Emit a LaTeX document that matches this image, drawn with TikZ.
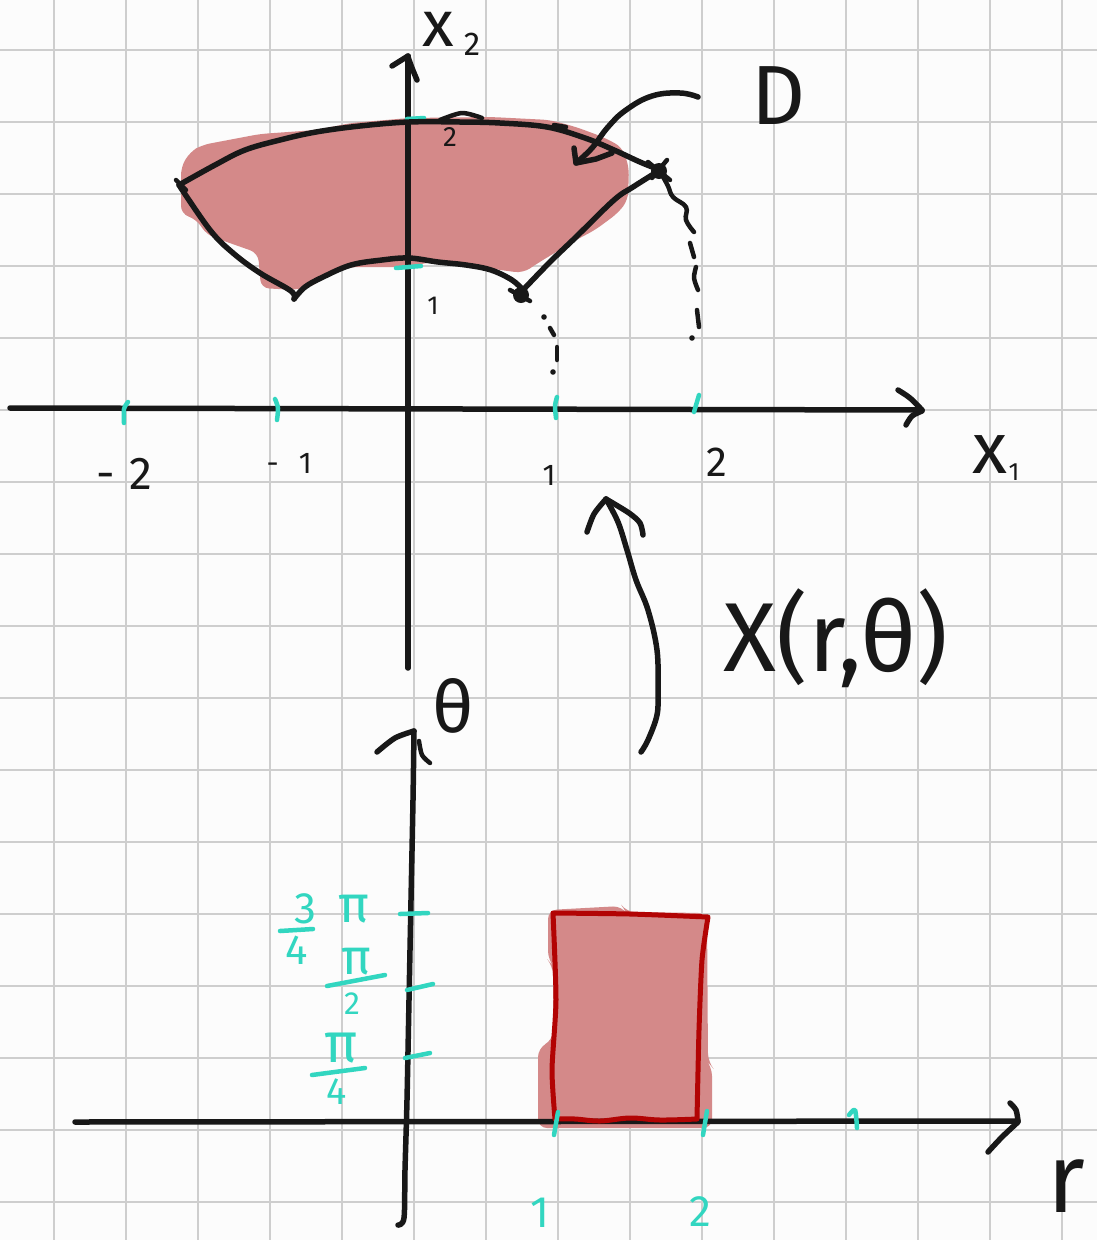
\documentclass[tikz,border=0pt]{standalone}
\usepackage{fontspec}
\setmainfont{Fira Sans}
\definecolor{inkc}{RGB}{24,24,24}
\definecolor{tealc}{RGB}{50,214,192}
\definecolor{gridc}{RGB}{206,206,206}
\definecolor{fillred}{RGB}{212,137,137}
\definecolor{boxred}{RGB}{178,4,4}
\definecolor{paper}{RGB}{252,252,252}
\begin{document}
\begin{tikzpicture}[x=1pt,y=-1pt,line cap=round,line join=round,
  ink/.style={draw=inkc,line width=5.5pt},
  thin ink/.style={draw=inkc,line width=4.5pt},
  tk/.style={draw=tealc,line width=4.5pt},
  gridline/.style={draw=gridc,line width=1.8pt},
  lab/.style={inner sep=0pt,text=inkc},
  tlab/.style={inner sep=0pt,text=tealc},
  fs/.style={font=\fontsize{#1}{#1}\selectfont}]
\useasboundingbox (0,0) rectangle (1097,1240);
\fill[paper] (0,0) rectangle (1097,1240);
% grid
\foreach \x in {54,126,...,1062} \draw[gridline] (\x,0) -- (\x,1240);
\foreach \y in {50,122,...,1202} \draw[gridline] (0,\y) -- (1097,\y);

% ---------- top: region D ----------
\fill[fillred,rounded corners=8pt] (181,167) -- (190,152) -- (202,145) -- (260,134) -- (316,130) -- (351,123) -- (409,118) -- (491,117) -- (550,120) -- (576,127) -- (603,137) -- (622,147) -- (629,167) -- (628,200) -- (618,213) -- (595,230) -- (576,240) -- (538,263) -- (523,273) -- (500,270) -- (445,260) -- (403,267) -- (351,267) -- (326,273) -- (316,285) -- (295,290) -- (261,288) -- (258,253) -- (207,235) -- (196,219) -- (181,214) -- cycle;

% axes
\coordinate (x1s) at (10,408);
\coordinate (x1e) at (922,410);
\coordinate (x2s) at (408,668);
\coordinate (x2e) at (408,56);
\draw[ink] (x1s) -- (x1e);
\draw[ink] plot[smooth] coordinates {(898,390) (910,398) (922,410)};
\draw[ink] plot[smooth] coordinates {(922,411) (912,416) (906,425)};
\draw[ink] (x2s) -- (x2e);
\draw[ink] plot[smooth] coordinates {(392,66) (400,61) (408,56)};
\draw[ink] plot[smooth] coordinates {(408,57) (412,68) (417,80)};

% ticks on x1 axis
\draw[tk] plot[smooth] coordinates {(128,402) (124,409) (124,423)};
\draw[tk] plot[smooth] coordinates {(275,399) (278,408) (277,420)};
\draw[tk] plot[smooth] coordinates {(557,397) (555,406) (556,418)};
\draw[tk] (699,395) -- (694,412);
% ticks on x2 axis
\draw[tk] (407,119) -- (424,118);
\draw[tk] (396,268) -- (421,266);

% outline of D
\draw[ink] plot[smooth,tension=0.6] coordinates {(179,185) (215,165) (245,150) (280,140) (316,132) (360,126) (409,122) (460,122) (500,123) (547,127) (585,138) (614,150) (640,162) (660,170)};
\draw[ink] plot[smooth,tension=0.6] coordinates {(179,185) (210,230) (233,253) (260,273) (291,291) (294,299)};
\draw[ink] plot[smooth,tension=0.6] coordinates {(294,299) (305,287) (323,277) (351,265) (382,260) (409,258) (438,262) (466,265) (491,270) (512,280) (523,290)};
\draw[ink] plot[smooth,tension=0.6] coordinates {(523,290) (550,262) (576,237) (614,200) (633,187) (660,170)};
\draw[thin ink] plot[smooth] coordinates {(440,120) (462,113) (482,118)};
\draw[thin ink] (554,125) -- (566,127);
% corner marks
\fill[inkc] (659,171) circle (8pt);
\draw[thin ink] (648,162) -- (670,180);
\draw[thin ink] (652,178) -- (667,160);
\fill[inkc] (521,295) circle (8pt);
\draw[thin ink] (510,290) -- (530,301);
\draw[thin ink] (176,180) -- (186,190);
% dashed continuation of the arcs
\fill[inkc] (544,317) circle (2.8pt);
\draw[thin ink] (550,328) -- (554,335);
\draw[thin ink] (557,347) -- (557,360);
\fill[inkc] (553,372) circle (2.8pt);
\draw[thin ink] plot[smooth,tension=0.7] coordinates {(662,175) (668,186) (673,197) (686,207) (686,220) (694,232)};
\draw[thin ink] (690,243) -- (694,257);
\draw[thin ink] plot[smooth] coordinates {(696,267) (694,278) (698,290)};
\draw[thin ink] (697,310) -- (699,327);
\fill[inkc] (692,338) circle (2.8pt);

% arrow from D
\node[lab,fs=84] (D) at (779,96) {D};
\coordinate (Dtail) at (698,97);
\coordinate (Dtip) at (576,163);
\draw[ink] plot[smooth,tension=0.7] coordinates {(Dtail) (680,93) (652,96) (626,110) (608,127) (592,148) (Dtip)};
\draw[ink] (574,148) -- (Dtip) -- (596,159) -- (612,153);

% labels top
\node[lab,fs=65] (x2lab) at (438,29) {x};
\node[lab,fs=33] (x2sub) at (472,44) {2};
\node[lab,fs=72] (x1lab) at (990,455) {x};
\node[lab,fs=25] (x1sub) at (1014,472) {1};
\node[lab,fs=46,anchor=east] (lm2) at (152,474) {-\hspace{14pt}2};
\node[lab,fs=30,anchor=east] (lm1) at (312,463) {-\hspace{20pt}1};
\node[lab,fs=30] (lp1) at (549,475) {1};
\node[lab,fs=42] (lp2) at (717,462) {2};
\node[lab,fs=28] (ly2) at (450,137) {2};
\node[lab,fs=26] (ly1) at (433,306) {1};

% ---------- mapping arrow ----------
\coordinate (mtail) at (641,752);
\coordinate (mtip) at (606,499);
\draw[ink] plot[smooth,tension=0.6] coordinates {(mtail) (648,740) (657,715) (658,690) (657,650) (648,610) (636,580) (627,550) (618,522) (mtip)};
\draw[ink] plot[smooth] coordinates {(587,532) (594,514) (mtip)};
\draw[ink] plot[smooth] coordinates {(mtip) (629,513) (640,523) (643,535)};
\node[lab,fs=98] (map) at (836,638) {X(r,θ)};

% ---------- bottom: rectangle ----------
\fill[fillred,rounded corners=9pt] (548,910) -- (622,906) -- (626,912) -- (707,913) -- (708,1062) -- (712,1067) -- (712,1128) -- (538,1128) -- (538,1048) -- (553,1040) -- (553,966) -- (548,960) -- cycle;
\coordinate (rs) at (75,1122);
\coordinate (re) at (1018,1121);
\draw[ink] (rs) -- (re);
\draw[ink] plot[smooth] coordinates {(1010,1103) (1016,1110) (1018,1121)};
\draw[ink] plot[smooth] coordinates {(1018,1122) (1002,1137) (988,1152)};
\coordinate (ts) at (398,1225);
\coordinate (te) at (414,731);
\draw[ink] plot[smooth,tension=0.5] coordinates {(ts) (404,1218) (405,1170) (407,1100) (409,1000) (411,900) (413,800) (te)};
\draw[ink] plot[smooth] coordinates {(377,752) (395,738) (te)};
\draw[thin ink] plot[smooth] coordinates {(419,741) (422,755) (430,763)};
\draw[draw=boxred,line width=5pt] plot[smooth,tension=0.4] coordinates {(553,913) (630,914) (708,917)}
  -- plot[smooth,tension=0.4] coordinates {(708,917) (702,960) (699,1030) (697,1119)}
  -- plot[smooth,tension=0.6] coordinates {(697,1119) (660,1120) (630,1118) (600,1121) (575,1119) (555,1119)}
  -- plot[smooth,tension=0.4] coordinates {(555,1119) (552,1070) (556,1000) (553,913)};

% ticks bottom
\draw[tk] (558,1112) -- (554,1135);
\draw[tk] (707,1111) -- (703,1135);
\draw[tk] plot[smooth] coordinates {(849,1115) (855,1110) (857,1128)};
\draw[tk] (400,914) -- (428,913);
\draw[tk] (407,990) -- (433,984);
\draw[tk] (405,1058) -- (430,1053);

% labels bottom
\node[lab,fs=72] (thlab) at (453,706) {θ};
\node[lab,fs=98] (rlab) at (1066,1186) {r};
\node[tlab,fs=44] (b1) at (540,1213) {1};
\node[tlab,fs=44] (b2) at (700,1212) {2};
% 3/4 pi
\node[tlab,fs=44] (f3) at (305,909) {3};
\node[tlab,fs=42] (f4) at (297,950) {4};
\node[tlab,fs=52] (fpi3) at (354,909) {π};
\draw[tk] (280,931) -- (313,929);
% pi/2
\node[tlab,fs=50] (fpi2) at (356,962) {π};
\draw[tk] (327,986) -- (385,975);
\node[tlab,fs=32] (f2) at (352,1004) {2};
% pi/4
\node[tlab,fs=56] (fpi1) at (341,1048) {π};
\draw[tk] (312,1075) -- (365,1068);
\node[tlab,fs=38] (f4b) at (337,1092) {4};
\end{tikzpicture}
\end{document}
